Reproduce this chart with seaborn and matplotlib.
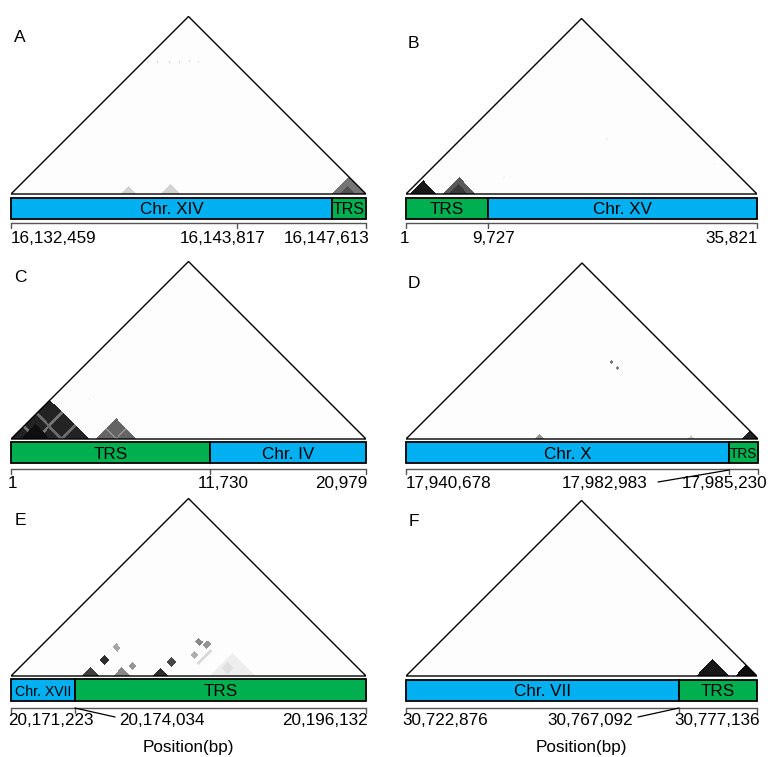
import numpy as np
import matplotlib
matplotlib.use("Agg")
import matplotlib.pyplot as plt
from matplotlib.patches import Polygon, Rectangle
import seaborn as sns

sns.set_theme(style="white")
plt.rcParams["font.family"] = ["Liberation Sans", "DejaVu Sans"]

BLUE = "#00B0F0"
GREEN = "#00B050"

# ---------------------------------------------------------------- data
panel_letters = ["A", "B", "C", "D", "E", "F"]

# bar segments: (name, start, end) as fraction of the plotted window
segments_A = [("Chr. XIV", 0.0, 0.904), ("TRS", 0.904, 1.0)]
segments_B = [("TRS", 0.0, 0.234), ("Chr. XV", 0.234, 1.0)]
segments_C = [("TRS", 0.0, 0.561), ("Chr. IV", 0.561, 1.0)]
segments_D = [("Chr. X", 0.0, 0.918), ("TRS", 0.918, 1.0)]
segments_E = [("Chr. XVII", 0.0, 0.180), ("TRS", 0.180, 1.0)]
segments_F = [("Chr. VII", 0.0, 0.778), ("TRS", 0.778, 1.0)]

# position ticks (fraction of window) and their bp labels
ticks_A = [0.0, 0.637, 1.0]
tick_labels_A = ["16,132,459", "16,143,817", "16,147,613"]
ticks_B = [0.0, 0.234, 1.0]
tick_labels_B = ["1", "9,727", "35,821"]
ticks_C = [0.0, 0.561, 1.0]
tick_labels_C = ["1", "11,730", "20,979"]
ticks_D = [0.0, 0.918, 1.0]
tick_labels_D = ["17,940,678", "17,982,983", "17,985,230"]
ticks_E = [0.0, 0.180, 1.0]
tick_labels_E = ["20,171,223", "20,174,034", "20,196,132"]
ticks_F = [0.0, 0.778, 1.0]
tick_labels_F = ["30,722,876", "30,767,092", "30,777,136"]

# contact features: (i0, i1, j0, j1, signal) in window fractions
contacts_A = [
    (0.31, 0.355, 0.31, 0.355, 0.28),
    (0.42, 0.475, 0.42, 0.475, 0.28),
    (0.905, 1.0, 0.905, 1.0, 0.62),
    (0.93, 0.97, 0.93, 0.97, 0.75),
    (0.010, 0.016, 0.755, 0.761, 0.25),
    (0.040, 0.046, 0.785, 0.791, 0.30),
    (0.070, 0.076, 0.815, 0.821, 0.30),
    (0.100, 0.106, 0.845, 0.851, 0.28),
    (0.130, 0.136, 0.875, 0.881, 0.25),
    (0.155, 0.161, 0.900, 0.906, 0.20),
]
contacts_B = [
    (0.010, 0.088, 0.010, 0.088, 0.92),
    (0.108, 0.198, 0.108, 0.198, 0.72),
    (0.125, 0.180, 0.125, 0.180, 0.82),
    (0.410, 0.420, 0.725, 0.735, 0.10),
    (0.790, 0.798, 0.962, 0.970, 0.08),
    (0.232, 0.240, 0.324, 0.332, 0.10),
]
contacts_C = [
    (0.000, 0.220, 0.000, 0.220, 0.88),
    (0.000, 0.220, 0.068, 0.076, 0.62),
    (0.000, 0.220, 0.140, 0.148, 0.66),
    (0.030, 0.110, 0.030, 0.110, 0.95),
    (0.240, 0.355, 0.240, 0.355, 0.68),
    (0.240, 0.355, 0.292, 0.298, 0.50),
    (0.104, 0.110, 0.334, 0.340, 0.15),
    (0.112, 0.118, 0.350, 0.356, 0.12),
]
contacts_D = [
    (0.369, 0.392, 0.369, 0.392, 0.50),
    (0.800, 0.820, 0.800, 0.820, 0.30),
    (0.958, 1.000, 0.958, 1.000, 0.88),
    (0.360, 0.372, 0.798, 0.810, 0.62),
    (0.394, 0.406, 0.798, 0.810, 0.55),
]
contacts_E = [
    (0.200, 0.250, 0.200, 0.250, 0.80),
    (0.290, 0.338, 0.290, 0.338, 0.55),
    (0.398, 0.445, 0.398, 0.445, 0.85),
    (0.560, 0.690, 0.560, 0.690, 0.14),
    (0.205, 0.232, 0.297, 0.324, 0.85),
    (0.207, 0.231, 0.366, 0.390, 0.45),
    (0.305, 0.328, 0.363, 0.386, 0.50),
    (0.402, 0.428, 0.480, 0.506, 0.78),
    (0.424, 0.448, 0.616, 0.640, 0.55),
    (0.456, 0.480, 0.630, 0.654, 0.50),
    (0.448, 0.470, 0.566, 0.588, 0.42),
    (0.490, 0.500, 0.560, 0.640, 0.25),
    (0.570, 0.605, 0.615, 0.650, 0.22),
]
contacts_F = [
    (0.830, 0.920, 0.830, 0.920, 0.92),
    (0.937, 1.000, 0.937, 1.000, 0.95),
    (0.300, 0.306, 0.560, 0.566, 0.06),
    (0.520, 0.526, 0.700, 0.706, 0.06),
]

segments = [segments_A, segments_B, segments_C, segments_D, segments_E, segments_F]
ticks = [ticks_A, ticks_B, ticks_C, ticks_D, ticks_E, ticks_F]
tick_labels = [tick_labels_A, tick_labels_B, tick_labels_C,
               tick_labels_D, tick_labels_E, tick_labels_F]
contacts = [contacts_A, contacts_B, contacts_C, contacts_D, contacts_E, contacts_F]

# ---------------------------------------------------------------- layout (pixels)
W_PX, H_PX = 770, 757
# left, right, triangle base, bar top, bar bottom, tick line, label centre
frames = [
    (11, 366, 194, 198, 219, 223, 237),
    (406, 757, 194, 198, 219, 223, 237),
    (11, 366, 439, 442, 463, 469, 482),
    (406, 758, 439, 442, 463, 469, 482),
    (11, 366, 676, 679, 701, 708, 719),
    (406, 757, 676, 680, 701, 708, 719),
]
letter_xy = [(20, 36), (413, 42), (20, 276), (414, 282), (20, 519), (414, 520)]
# label anchor (x fraction, alignment) for each tick label
label_anchor = [
    [(0.0, "left"), (0.597, "center"), (1.011, "right")],
    [(-0.003, "center"), (0.251, "center"), (1.003, "right")],
    [(0.004, "center"), (0.597, "center"), (1.003, "right")],
    [(0.0, "left"), (0.565, "center"), (1.026, "right")],
    [(0.113, "center"), (0.425, "center"), (1.006, "right")],
    [(-0.009, "left"), (0.524, "center"), (1.009, "right")],
]
# leader lines: ((x0, y0_px), (x1, y1_px))
leaders = {
    3: ((0.716, 482), (0.918, 470)),
    4: ((0.180, 708), (0.293, 717)),
    5: ((0.661, 717), (0.778, 708)),
}
seg_font = {0: {"TRS": 11.5}, 3: {"TRS": 9.8}, 4: {"Chr. XVII": 10.2}}
FS = 12.3

cmap = sns.color_palette("Greys", as_cmap=True)


def contact_matrix(features, n=180, bg=0.018):
    m = np.full((n, n), bg)
    for i0, i1, j0, j1, v in features:
        a0 = int(round(i0 * n)); a1 = max(int(round(i1 * n)), a0 + 1)
        b0 = int(round(j0 * n)); b1 = max(int(round(j1 * n)), b0 + 1)
        m[a0:a1, b0:b1] = v
        m[b0:b1, a0:a1] = v
    return m


fig = plt.figure(figsize=(W_PX / 100, H_PX / 100), dpi=100)

for k in range(6):
    L, R, yb, bt, bb, ty, ly = frames[k]
    W = R - L
    top_px = yb - W / 2 - 4
    bot_px = ly + 34 if k >= 4 else ly + 14
    ax = fig.add_axes([L / W_PX, 1 - bot_px / H_PX, W / W_PX, (bot_px - top_px) / H_PX])
    ax.set_xlim(0, 1)
    ax.set_ylim((yb - bot_px) / W, (yb - top_px) / W)
    ax.axis("off")

    def yd(px):
        return (yb - px) / W

    # rotated contact map
    m = contact_matrix(contacts[k])
    n = m.shape[0]
    e = np.linspace(0, 1, n + 1)
    A, B = np.meshgrid(e, e, indexing="ij")
    X = (A + B) / 2
    Y = (B - A) / 2
    tri = Polygon([(0, 0), (0.5, 0.5), (1, 0)], closed=True,
                  transform=ax.transData, fill=False)
    mesh = ax.pcolormesh(X, Y, m, cmap=cmap, vmin=0, vmax=1,
                         shading="flat", rasterized=True)
    mesh.set_clip_path(tri)
    ax.add_patch(Polygon([(0, 0), (0.5, 0.5), (1, 0)], closed=True,
                         fill=False, ec="black", lw=1.0, joinstyle="miter"))

    # annotation bar
    for name, s, t in segments[k]:
        col = GREEN if name == "TRS" else BLUE
        ax.add_patch(Rectangle((s, yd(bb)), t - s, yd(bt) - yd(bb),
                               fc=col, ec="black", lw=1.3, clip_on=False))
        fs = seg_font.get(k, {}).get(name, FS)
        ax.text((s + t) / 2, (yd(bt) + yd(bb)) / 2, name, ha="center",
                va="center_baseline", fontsize=fs, color="black")

    # position scale
    ax.plot([0, 1], [yd(ty), yd(ty)], color="#555555", lw=1.0, clip_on=False)
    for t in ticks[k]:
        ax.plot([t, t], [yd(ty), yd(ty + 5)], color="#555555", lw=1.0, clip_on=False)
    for lab, (xa, ha) in zip(tick_labels[k], label_anchor[k]):
        ax.text(xa, yd(ly), lab, ha=ha, va="center_baseline", fontsize=FS, color="black")
    if k in leaders:
        (x0, y0), (x1, y1) = leaders[k]
        ax.plot([x0, x1], [yd(y0), yd(y1)], color="black", lw=0.9, clip_on=False)

    if k >= 4:
        ax.text(0.5, yd(746), "Position(bp)", ha="center", va="center_baseline",
                fontsize=FS, color="black")

    lx, lyy = letter_xy[k]
    fig.text(lx / W_PX, 1 - lyy / H_PX, panel_letters[k], ha="center",
             va="center_baseline", fontsize=12.5, color="black")

fig.savefig("out.png", dpi=100)
